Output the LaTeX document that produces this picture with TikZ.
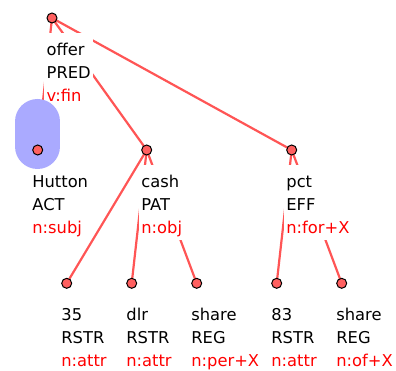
\documentclass[tikz,border=0pt]{standalone}
\usepackage{fontspec}
\setmainfont{DejaVu Sans}
\definecolor{edgered}{RGB}{255,85,85}
\definecolor{dotred}{RGB}{255,96,96}
\definecolor{hlblue}{RGB}{170,170,255}
\definecolor{fmred}{RGB}{255,0,0}
\pgfdeclarelayer{bg}
\pgfdeclarelayer{hl}
\pgfdeclarelayer{dots}
\pgfsetlayers{bg,main,hl,dots}
\begin{document}
\begin{tikzpicture}[x=1pt,y=-1pt,
  dotnode/.style={circle,draw=black,line width=1pt,fill=dotred,minimum size=10pt,inner sep=0pt},
  edgeline/.style={draw=edgered,line width=2.2pt},
  lbl/.style={fill=white,anchor=north west,align=left,inner xsep=2.5pt,inner ysep=2pt,
    font=\fontsize{16.3}{23}\selectfont,text=black},
  hlshape/.style={draw=hlblue,line width=45pt,line cap=round}]
\useasboundingbox (0,0) rectangle (396,371);
\newcommand{\fst}{\rule{0pt}{20pt}}
\newcommand{\lst}{\rule[-5pt]{0pt}{5pt}}
% dots
\begin{pgfonlayer}{dots}
\node[dotnode] (top) at (52,18) {};
\node[dotnode] (hut) at (37.7,150) {};
\node[dotnode] (cash) at (146.7,150) {};
\node[dotnode] (pct) at (291.7,150) {};
\node[dotnode] (n35) at (66.7,283.3) {};
\node[dotnode] (dlr) at (131.7,283.3) {};
\node[dotnode] (sh1) at (196.7,283.3) {};
\node[dotnode] (n83) at (276.7,283.3) {};
\node[dotnode] (sh2) at (341.7,283.3) {};
\end{pgfonlayer}
% labels
\node[lbl] (topL) at ([xshift=-8pt,yshift=-15pt]top.center) {\fst offer\\PRED\\\textcolor{fmred}{v:fin}\lst};
\node[lbl] (hutL) at ([xshift=-8pt,yshift=-15pt]hut.center) {\fst Hutton\\ACT\\\textcolor{fmred}{n:subj}\lst};
\node[lbl] (cashL) at ([xshift=-8pt,yshift=-15pt]cash.center) {\fst cash\\PAT\\\textcolor{fmred}{n:obj}\lst};
\node[lbl] (pctL) at ([xshift=-8pt,yshift=-15pt]pct.center) {\fst pct\\EFF\\\textcolor{fmred}{n:for+X}\lst};
\node[lbl] (n35L) at ([xshift=-8pt,yshift=-15pt]n35.center) {\fst 35\\RSTR\\\textcolor{fmred}{n:attr}\lst};
\node[lbl] (dlrL) at ([xshift=-8pt,yshift=-15pt]dlr.center) {\fst dlr\\RSTR\\\textcolor{fmred}{n:attr}\lst};
\node[lbl] (sh1L) at ([xshift=-8pt,yshift=-15pt]sh1.center) {\fst share\\REG\\\textcolor{fmred}{n:per+X}\lst};
\node[lbl] (n83L) at ([xshift=-8pt,yshift=-15pt]n83.center) {\fst 83\\RSTR\\\textcolor{fmred}{n:attr}\lst};
\node[lbl] (sh2L) at ([xshift=-8pt,yshift=-15pt]sh2.center) {\fst share\\REG\\\textcolor{fmred}{n:of+X}\lst};
\begin{pgfonlayer}{bg}
  \draw[edgeline] (top.center) -- (hut.center);
  \draw[edgeline] (top.center) -- (cash.center);
  \draw[edgeline] (top.center) -- (pct.center);
  \draw[edgeline] (cash.center) -- (n35.center);
  \draw[edgeline] (cash.center) -- (dlr.center);
  \draw[edgeline] (cash.center) -- (sh1.center);
  \draw[edgeline] (pct.center) -- (n83.center);
  \draw[edgeline] (pct.center) -- (sh2.center);
\end{pgfonlayer}
\begin{pgfonlayer}{hl}
  \coordinate (hlA) at (37.5,121.5);
  \coordinate (hlB) at (37.5,146.5);
  \draw[hlshape] (hlA) -- (hlB);
\end{pgfonlayer}
\end{tikzpicture}
\end{document}
